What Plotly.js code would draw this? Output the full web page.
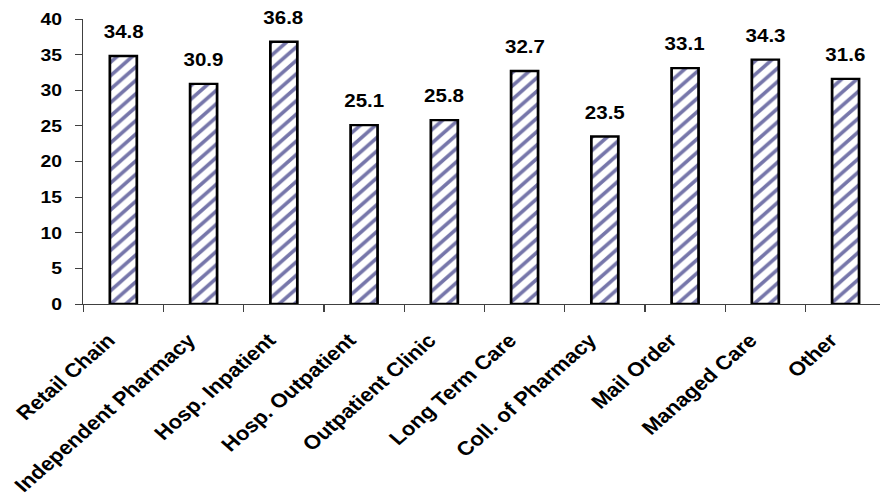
<!DOCTYPE html>
<html>
<head>
<meta charset="utf-8">
<script src="https://cdn.plot.ly/plotly-3.0.1.min.js"></script>
<style>
  html, body { margin: 0; padding: 0; background: #fff; overflow: hidden; }
  /* the chart is laid out narrower and widened horizontally, giving the wide lettering */
  #chart { width: 772px; height: 497px; transform: scaleX(1.14); transform-origin: 0 0; }
</style>
</head>
<body>
<div id="chart"></div>
<script>
// Practice settings and their mean values
const categories = [
  "Retail Chain", "Independent Pharmacy", "Hosp. Inpatient", "Hosp. Outpatient",
  "Outpatient Clinic", "Long Term Care", "Coll. of Pharmacy", "Mail Order",
  "Managed Care", "Other"
];
const values = [34.8, 30.9, 36.8, 25.1, 25.8, 32.7, 23.5, 33.1, 34.3, 31.6];
const yTicks = [0, 5, 10, 15, 20, 25, 30, 35, 40];

const font = "Liberation Sans, Arial, sans-serif";

const trace = {
  type: "bar",
  x: categories,
  y: values,
  width: 0.336,
  marker: {
    color: "#ffffff",
    line: { color: "#000000", width: 2.4 },
    pattern: { shape: "/", fgcolor: "#7676aa", bgcolor: "#ffffff", size: 9.5, solidity: 0.36 }
  },
  hoverinfo: "none"
};

// value labels sitting above each bar
const annotations = categories.map((c, i) => ({
  x: c,
  y: values[i],
  text: values[i].toFixed(1),
  showarrow: false,
  xanchor: "center",
  yanchor: "bottom",
  yshift: 12,
  font: { family: font, size: 18, color: "#000", weight: "bold" }
}));

const layout = {
  width: 772,
  height: 497,
  margin: { l: 73, r: 0, t: 19, b: 193 },
  paper_bgcolor: "#fff",
  plot_bgcolor: "#fff",
  showlegend: false,
  bargap: 0.66,
  xaxis: {
    type: "category",
    range: [-0.5, 9.43],
    showgrid: false,
    zeroline: false,
    showline: true,
    linecolor: "#404040",
    linewidth: 1.2,
    ticks: "outside",
    tickson: "boundaries",
    ticklen: 7,
    tickcolor: "#404040",
    tickangle: -45,
    ticklabelstandoff: 16,
    ticklabelshift: -13,
    tickfont: { family: font, size: 19.5, color: "#000", weight: "bold" }
  },
  yaxis: {
    range: [0, 40],
    tickvals: yTicks,
    showgrid: false,
    zeroline: false,
    showline: true,
    linecolor: "#404040",
    linewidth: 1.2,
    ticks: "outside",
    ticklen: 6,
    tickcolor: "#404040",
    ticklabelstandoff: 8,
    tickfont: { family: font, size: 17, color: "#000", weight: "bold" }
  },
  annotations: annotations
};

Plotly.newPlot("chart", [trace], layout, { displayModeBar: false, staticPlot: true });
</script>
</body>
</html>
